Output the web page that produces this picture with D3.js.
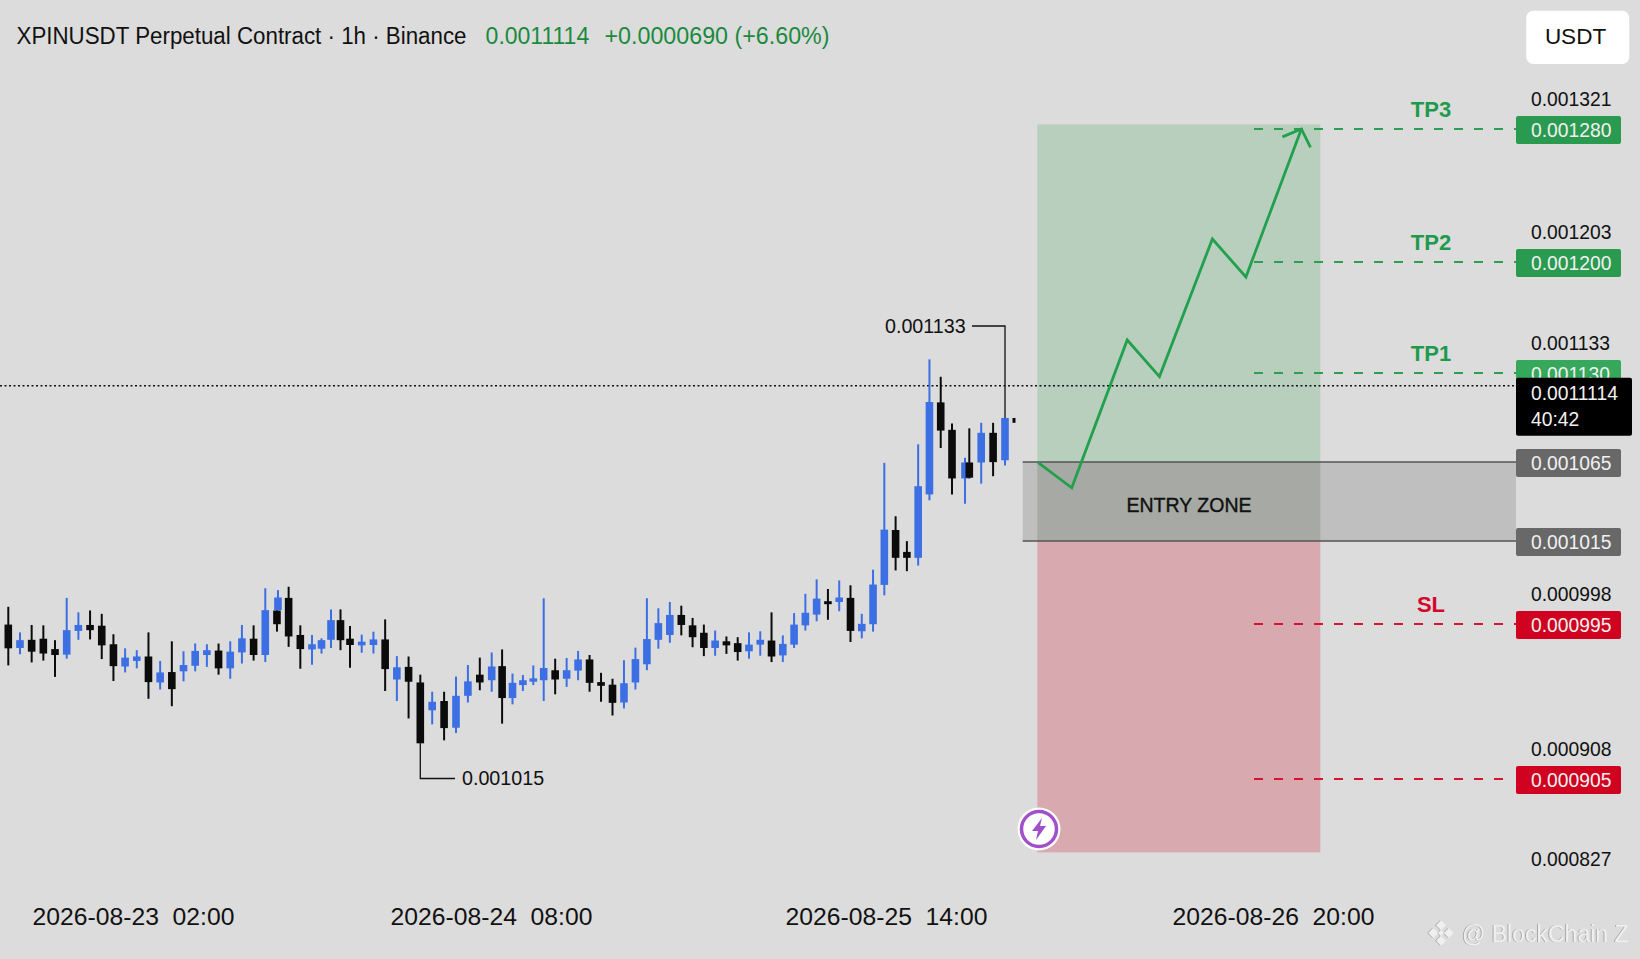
<!DOCTYPE html>
<html lang="en">
<head>
  <meta charset="UTF-8">
  <title>XPINUSDT Perpetual Contract</title>
  <script src="https://cdn.jsdelivr.net/npm/d3@7"></script>
  <style>
    body { margin: 0; background: #dcdcdc; }
    svg { display: block; font-family: "Liberation Sans", Arial, sans-serif; }
    text { white-space: pre; }
  </style>
</head>
<body>
  <svg id="chart" width="1640" height="959"></svg>
  <script>
    // prices are in millionths of USDT (1047.0 = 0.001047)
    const open = [1047.0,1040.7,1042.9,1043.2,1040.4,1038.9,1045.3,1046.9,1046.7,1041.7,1035.7,1037.2,1038.4,1031.4,1034.2,1034.4,1035.9,1038.8,1040.0,1035.2,1039.5,1043.2,1038.8,1050.8,1054.2,1044.2,1040.3,1040.5,1042.9,1048.2,1043.2,1041.4,1041.5,1043.0,1032.2,1035.6,1031.4,1023.9,1026.4,1019.2,1027.8,1033.5,1032.0,1035.8,1027.2,1030.7,1031.6,1032.0,1034.7,1032.4,1034.6,1037.6,1031.5,1030.8,1026.0,1031.4,1036.3,1042.9,1044.2,1049.6,1046.8,1044.8,1040.7,1042.5,1042.0,1039.8,1041.6,1042.7,1038.7,1041.6,1046.8,1049.7,1053.3,1053.1,1054.2,1045.2,1047.1,1057.7,1072.5,1066.6,1065.0,1082.1,1106.9,1099.5,1086.4,1090.7,1090.7,1098.7,1091.3];
    const high = [1051.8,1044.9,1046.9,1046.8,1042.8,1054.2,1050.3,1050.8,1049.9,1044.4,1040.6,1040.1,1044.9,1037.2,1042.5,1039.8,1041.9,1041.7,1041.9,1042.5,1046.9,1046.8,1056.8,1050.8,1057.2,1046.8,1044.2,1043.3,1051.1,1051.1,1046.6,1044.3,1045.1,1048.4,1038.5,1038.4,1033.5,1028.9,1028.9,1033.0,1036.1,1038.1,1039.5,1040.3,1033.8,1033.4,1036.0,1054.1,1037.8,1038.0,1039.9,1038.8,1034.0,1032.4,1037.4,1040.8,1054.1,1051.4,1053.1,1052.1,1048.8,1047.0,1045.4,1043.8,1043.6,1044.9,1045.2,1050.3,1044.1,1050.1,1055.3,1059.2,1056.6,1058.9,1057.6,1049.9,1061.8,1090.6,1076.2,1069.5,1095.6,1118.5,1113.8,1101.2,1092.0,1099.9,1101.4,1101.4,1102.7];
    const low = [1036.0,1039.0,1036.8,1037.3,1032.9,1037.8,1042.9,1043.0,1037.7,1031.8,1034.1,1035.2,1027.0,1029.5,1025.0,1031.7,1034.4,1035.6,1033.5,1032.4,1036.5,1037.3,1036.9,1045.1,1041.0,1035.1,1036.2,1039.2,1040.7,1040.1,1035.4,1039.4,1039.2,1029.1,1026.4,1021.7,1015.0,1020.1,1015.8,1017.8,1026.0,1029.3,1028.9,1020.3,1025.5,1029.1,1030.7,1026.4,1028.2,1030.2,1032.0,1028.9,1026.2,1022.5,1024.4,1029.5,1034.7,1040.5,1042.1,1044.1,1040.9,1038.5,1038.6,1039.1,1037.3,1037.8,1038.6,1036.9,1036.9,1040.7,1045.4,1047.9,1048.3,1050.6,1042.3,1043.3,1045.1,1054.9,1061.6,1061.4,1062.9,1080.5,1094.6,1082.1,1079.6,1086.4,1085.0,1087.0,1089.9];
    const close = [1040.6,1042.8,1039.7,1039.2,1038.8,1045.5,1046.9,1045.5,1041.4,1035.8,1038.1,1038.4,1031.5,1034.1,1029.6,1036.1,1039.9,1040.1,1035.2,1039.7,1043.3,1038.8,1050.9,1047.1,1043.8,1040.4,1041.7,1042.8,1048.2,1042.8,1041.5,1042.4,1043.0,1035.0,1035.5,1031.6,1015.0,1026.2,1019.1,1027.8,1031.7,1031.4,1035.7,1027.2,1031.3,1032.0,1032.5,1035.3,1032.2,1034.7,1037.6,1031.3,1030.5,1025.9,1031.2,1037.7,1043.1,1047.4,1049.6,1046.9,1043.6,1040.7,1042.7,1041.4,1039.6,1041.6,1042.9,1038.4,1041.8,1047.0,1050.2,1054.0,1052.5,1054.3,1045.3,1047.2,1057.8,1072.6,1065.0,1065.0,1084.3,1107.0,1099.3,1086.4,1090.7,1086.6,1098.7,1090.8,1102.7];

    // second candle smeared onto slot 23 in the picture, and the live candle
    const overlapSlot = 23, overlapOpen = 1050.9, overlapHigh = 1056.3, overlapClose = 1054.3;
    const liveSlot = 89, liveOpen = 1102.7, liveClose = 1101.4;

    const lastPrice = 1111.4;
    const chartLow = 1015, chartHigh = 1133;

    // right hand axis, the picture is not linear so the scale is piecewise
    const axisPrices = [1321, 1203, 1133, 998, 908, 827];
    const levelPrices = [1280, 1200, 1130, 1065, 1015, 995, 905];
    const levelColors = ["#2a9a50", "#2a9a50", "#35a85c", "#686868", "#686868", "#d0021f", "#d0021f"];
    const targetNames = ["TP3", "TP2", "TP1", "SL"];
    const targetPrices = [1280, 1200, 1130, 995];
    const targetColors = ["#1f9a4c", "#1f9a4c", "#1f9a4c", "#d4062a"];
    const dashedPrices = [1280, 1200, 1130, 995, 905];
    const dashedColors = ["#2e9e55", "#2e9e55", "#2e9e55", "#d8132f", "#d8132f"];

    const zoneGreenTop = 1286.4, zoneRedBottom = 833.5;
    const entryTop = 1065, entryBottom = 1015;

    const tickDates = ["2026-08-23 02:00", "2026-08-24 08:00", "2026-08-25 14:00", "2026-08-26 20:00"];

    // hours after the first tick
    const pathHours = [71.8, 74.4, 78.7, 81.2, 85.3, 87.9, 92.2];
    const pathPrices = [1064.6, 1048.7, 1135.5, 1127.4, 1202.3, 1187.6, 1280];

    const parseDate = d3.timeParse("%Y-%m-%d %H:%M");
    const fmt = d => (d * 1e-6).toFixed(6);

    const svg = d3.select("#chart");

    const slotX = d3.scaleLinear()
      .domain([0, 26, 30, 36, 42, 47, 59, 83, 84, 85, 88, 89])
      .range([8.3, 312, 350, 420.3, 491.7, 543.7, 681.3, 952, 965, 969.3, 1005, 1014]);
    const candleY = d3.scaleLinear().domain([chartLow, lastPrice]).range([743.3, 385.7]);

    const axisY = d3.scaleLinear()
      .domain([827, 905, 908, 995, 998, 1015, 1065, 1130, 1133, 1200, 1203, 1280, 1321])
      .range([859, 779, 749, 624, 594, 541, 462, 373, 343, 262, 232, 129, 99]);

    const timeX = d3.scaleTime().domain(tickDates.map(parseDate)).range([133, 491, 886, 1273]);
    const hourX = h => {
      const t0 = parseDate(tickDates[0]);
      // past the last tick the scale just keeps its slope
      return timeX(new Date(+t0 + h * 3600e3));
    };

    // zones
    const zoneLeft = 1037.3, zoneRight = 1320.3, entryLeft = 1022.7, boxLeft = 1516;
    svg.append("rect").attr("x", zoneLeft).attr("y", axisY(zoneGreenTop))
      .attr("width", zoneRight - zoneLeft).attr("height", axisY(entryTop) - axisY(zoneGreenTop))
      .attr("fill", "#b9cfbd");
    svg.append("rect").attr("x", zoneLeft).attr("y", axisY(entryBottom))
      .attr("width", zoneRight - zoneLeft).attr("height", axisY(zoneRedBottom) - axisY(entryBottom))
      .attr("fill", "#d9a9b0");
    svg.append("rect").attr("x", entryLeft).attr("y", axisY(entryTop))
      .attr("width", boxLeft - entryLeft).attr("height", axisY(entryBottom) - axisY(entryTop))
      .attr("fill", "#bfbfbf");
    svg.append("rect").attr("x", zoneLeft).attr("y", axisY(entryTop))
      .attr("width", zoneRight - zoneLeft).attr("height", axisY(entryBottom) - axisY(entryTop))
      .attr("fill", "#a7aaa4");
    svg.selectAll(".entry-line").data([entryTop, entryBottom]).join("line")
      .attr("x1", entryLeft).attr("x2", boxLeft)
      .attr("y1", d => axisY(d)).attr("y2", d => axisY(d))
      .attr("stroke", "#555").attr("stroke-width", 1.5);
    svg.append("text").attr("x", 1189).attr("y", 512).attr("text-anchor", "middle")
      .attr("font-size", 19.5).attr("stroke", "#111").attr("stroke-width", 0.4)
      .attr("fill", "#111").text("ENTRY ZONE");

    // dashed target lines
    svg.selectAll(".dash").data(dashedPrices).join("line")
      .attr("x1", 1254).attr("x2", (d, i) => i > 3 ? 1507 : 1516)
      .attr("y1", d => axisY(d)).attr("y2", d => axisY(d))
      .attr("stroke", (d, i) => dashedColors[i]).attr("stroke-width", 1.8)
      .attr("stroke-dasharray", "9 11");
    svg.selectAll(".target").data(targetNames).join("text")
      .attr("x", 1431).attr("text-anchor", "middle")
      .attr("y", (d, i) => axisY(targetPrices[i]) - 12)
      .attr("font-size", 22).attr("font-weight", 700)
      .attr("fill", (d, i) => targetColors[i]).text(d => d);

    // last price line
    svg.append("line").attr("x1", 0).attr("x2", boxLeft)
      .attr("y1", candleY(lastPrice)).attr("y2", candleY(lastPrice))
      .attr("stroke", "#111").attr("stroke-width", 1.5).attr("stroke-dasharray", "2 2.5");

    // candles
    const blue = "#3c6fe3", black = "#0b0b0b";
    const candles = d3.range(open.length);
    const color = i => close[i] >= open[i] ? blue : black;
    svg.append("g").selectAll("line").data(candles).join("line")
      .attr("x1", i => slotX(i)).attr("x2", i => slotX(i))
      .attr("y1", i => candleY(high[i])).attr("y2", i => candleY(low[i]))
      .attr("stroke", color).attr("stroke-width", 2);
    svg.append("g").selectAll("rect").data(candles).join("rect")
      .attr("x", i => slotX(i) - 3.8).attr("width", 7.6)
      .attr("y", i => candleY(Math.max(open[i], close[i])))
      .attr("height", i => Math.max(1.5, Math.abs(candleY(open[i]) - candleY(close[i]))))
      .attr("fill", color);
    svg.append("line")
      .attr("x1", slotX(overlapSlot) + 1).attr("x2", slotX(overlapSlot) + 1)
      .attr("y1", candleY(overlapHigh)).attr("y2", candleY(overlapOpen))
      .attr("stroke", blue).attr("stroke-width", 2);
    svg.append("rect")
      .attr("x", slotX(overlapSlot) - 2.8).attr("width", 7.6)
      .attr("y", candleY(overlapClose)).attr("height", candleY(overlapOpen) - candleY(overlapClose))
      .attr("fill", blue);
    svg.append("rect")
      .attr("x", slotX(liveSlot) - 1.5).attr("width", 3)
      .attr("y", candleY(liveOpen)).attr("height", candleY(liveClose) - candleY(liveOpen))
      .attr("fill", black);

    // high / low call-outs
    const lowPath = d3.path();
    lowPath.moveTo(slotX(36), candleY(chartLow));
    lowPath.lineTo(slotX(36), 778.5);
    lowPath.lineTo(455, 778.5);
    svg.append("path").attr("d", lowPath.toString()).attr("fill", "none").attr("stroke", "#111").attr("stroke-width", 1.3);
    const highPath = d3.path();
    highPath.moveTo(972, 326);
    highPath.lineTo(slotX(88), 326);
    highPath.lineTo(slotX(88), candleY(high[88]));
    svg.append("path").attr("d", highPath.toString()).attr("fill", "none").attr("stroke", "#111").attr("stroke-width", 1.3);
    svg.append("text").attr("x", 462).attr("y", 785).attr("font-size", 19.7).attr("fill", "#111").text(fmt(chartLow));
    svg.append("text").attr("x", 885).attr("y", 333).attr("font-size", 19.7).attr("fill", "#111").text(fmt(chartHigh));

    // trade path with arrow head
    const defs = svg.append("defs");
    defs.append("marker").attr("id", "head").attr("markerUnits", "userSpaceOnUse")
      .attr("viewBox", "-16 -17 18 34").attr("refX", 0).attr("refY", 0)
      .attr("markerWidth", 18).attr("markerHeight", 34).attr("orient", "auto")
      .append("path").attr("d", "M-14,-15L0,0L-14,15").attr("fill", "none")
      .attr("stroke", "#22a04e").attr("stroke-width", 2.8);
    const tradeLine = d3.line().x(d => hourX(d[0])).y(d => axisY(d[1]));
    svg.append("path").datum(d3.zip(pathHours, pathPrices)).attr("d", tradeLine)
      .attr("fill", "none").attr("stroke", "#22a04e").attr("stroke-width", 2.8)
      .attr("marker-end", "url(#head)");

    // axis labels
    const yAxis = d3.axisRight(axisY).tickValues(axisPrices).tickSize(0).tickPadding(0).tickFormat(fmt);
    const yG = svg.append("g").attr("transform", "translate(1531,0)").call(yAxis);
    yG.select(".domain").remove();
    yG.selectAll("text").attr("font-size", 19.3).attr("font-family", "Liberation Sans").attr("fill", "#111");

    // level boxes
    const boxes = svg.append("g").selectAll("g").data(levelPrices).join("g")
      .attr("transform", d => `translate(${boxLeft},${axisY(d) + 1})`);
    boxes.append("rect").attr("y", -14).attr("width", 105).attr("height", 28).attr("rx", 2)
      .attr("fill", (d, i) => levelColors[i]);
    boxes.append("text").attr("x", 15).attr("y", 7).attr("font-size", 19.3).attr("fill", "#f1f1f1")
      .text(fmt);

    // live price box
    svg.append("rect").attr("x", boxLeft).attr("y", 377.7).attr("width", 116).attr("height", 58)
      .attr("rx", 2).attr("fill", "#000");
    svg.append("text").attr("x", 1531).attr("y", 400).attr("font-size", 19.3).attr("fill", "#f1f1f1")
      .text((lastPrice * 1e-6).toFixed(7));
    svg.append("text").attr("x", 1531).attr("y", 426).attr("font-size", 19.3).attr("fill", "#f1f1f1").text("40:42");

    // time axis
    const xAxis = d3.axisBottom(timeX).tickValues(tickDates.map(parseDate)).tickSize(0).tickPadding(0)
      .tickFormat(d3.timeFormat("%Y-%m-%d  %H:%M"));
    const xG = svg.append("g").attr("transform", "translate(0,907)").call(xAxis);
    xG.select(".domain").remove();
    xG.selectAll("text").attr("font-size", 24.7).attr("font-family", "Liberation Sans").attr("fill", "#111");

    // header, squeezed to the widths in the picture
    svg.append("text").attr("x", 16.5).attr("y", 44).attr("font-size", 23).attr("fill", "#111")
      .attr("textLength", 450).attr("lengthAdjust", "spacingAndGlyphs")
      .text("XPINUSDT Perpetual Contract · 1h · Binance");
    svg.append("text").attr("x", 485.6).attr("y", 44).attr("font-size", 23).attr("fill", "#1a8a3c")
      .text((lastPrice * 1e-6).toFixed(7));
    svg.append("text").attr("x", 604.5).attr("y", 44).attr("font-size", 23).attr("fill", "#1a8a3c")
      .attr("textLength", 225).attr("lengthAdjust", "spacingAndGlyphs")
      .text("+0.0000690 (+6.60%)");

    // USDT button
    svg.append("rect").attr("x", 1526.3).attr("y", 10.7).attr("width", 103).attr("height", 53.3)
      .attr("rx", 7).attr("fill", "#fff");
    svg.append("text").attr("x", 1575.5).attr("y", 44).attr("text-anchor", "middle")
      .attr("font-size", 22.5).attr("fill", "#111").text("USDT");

    // lightning badge
    const badge = svg.append("g").attr("transform", "translate(1039,829)");
    badge.append("circle").attr("r", 21.5).attr("fill", "#fff");
    badge.append("circle").attr("r", 17.5).attr("fill", "#fff").attr("stroke", "#a050c8").attr("stroke-width", 3.5);
    badge.append("path").attr("d", "M3,-11L-7,2L-1,2L-3,11L7,-3L1,-3Z").attr("fill", "#a050c8");

    // watermark
    const mark = svg.append("g").style("filter", "drop-shadow(-1px 0 0 #a8a8a8)");
    mark.append("text").attr("x", 1462).attr("y", 942).attr("font-size", 23).attr("fill", "#f0f0f0").text("@ BlockChain Z");
    const logo = mark.append("g").attr("transform", "translate(1441,933) rotate(45)");
    [[-9, -9, 7], [2, -9, 7], [-9, 2, 7], [2, 2, 7], [-2.2, -2.2, 4.4]].forEach(s => {
      logo.append("rect").attr("x", s[0]).attr("y", s[1]).attr("width", s[2]).attr("height", s[2]).attr("fill", "#f0f0f0");
    });
  </script>
</body>
</html>
